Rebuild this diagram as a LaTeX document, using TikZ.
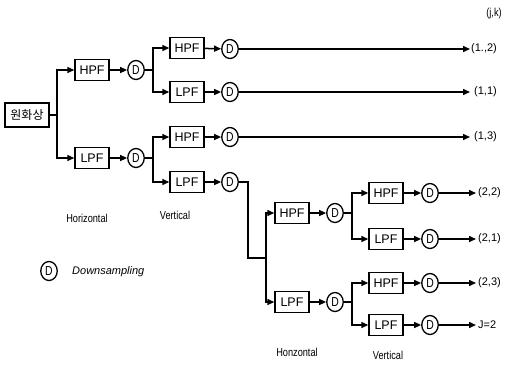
\documentclass[tikz,border=0pt]{standalone}
\usepackage{fontspec}
\setmainfont{Liberation Sans}
\newfontfamily\kor{Noto Sans CJK KR}
\newfontfamily\narrowsans[FakeStretch=0.8]{Liberation Sans}
\usetikzlibrary{arrows.meta,shapes.geometric}
\tikzset{
  filt/.style={draw,line width=1.4pt,minimum width=34pt,minimum height=21pt,inner sep=0pt,font=\fontsize{12.5}{13}\selectfont},
  dsamp/.style={draw,ellipse,line width=1.3pt,minimum width=16.5pt,minimum height=19pt,inner sep=0pt,font=\narrowsans\fontsize{13}{13}\selectfont},
  wire/.style={line width=1.5pt},
  arr/.style={line width=1.5pt,-{Triangle[length=7pt,width=6pt]}},
  lbl/.style={anchor=west,inner sep=0pt,font=\fontsize{11}{12}\selectfont},
  captext/.style={inner sep=0pt,font=\narrowsans\fontsize{11.5}{12}\selectfont}
}
\begin{document}
\begin{tikzpicture}[x=1pt,y=-1pt]
\useasboundingbox (0,0) rectangle (505,368);
% source
\node[draw,line width=1.4pt,minimum width=44pt,minimum height=24pt,inner sep=0pt,font=\kor\fontsize{12}{12}\selectfont] (src) at (27,115) {원화상};
% level 1 horizontal
\node[filt] (h1) at (92,70) {HPF};
\node[filt] (l1) at (92,158) {LPF};
\node[dsamp] (dh1) at (136,70) {D};
\node[dsamp] (dl1) at (136,158) {D};
% level 1 vertical
\node[filt] (hh1) at (187,48) {HPF};
\node[filt] (hl1) at (187,92) {LPF};
\node[filt] (lh1) at (187,137) {HPF};
\node[filt] (ll1) at (187,182) {LPF};
\node[dsamp] (dhh1) at (230,49) {D};
\node[dsamp] (dhl1) at (230,92) {D};
\node[dsamp] (dlh1) at (230,137) {D};
\node[dsamp] (dll1) at (230,182) {D};
% outputs level 1
\coordinate (o12) at (470,49);
\coordinate (o11) at (470,92);
\coordinate (o13) at (470,137);
\node[lbl] (t12) at (471,49) {(1.,2)};
\node[lbl] (t11) at (474,92) {(1,1)};
\node[lbl] (t13) at (474,137) {(1,3)};
\node[captext] (jk) at (494,14) {(j,k)};
% level 2 horizontal
\node[filt] (h2) at (292,213) {HPF};
\node[filt] (l2) at (292,302) {LPF};
\node[dsamp] (dh2) at (335,213) {D};
\node[dsamp] (dl2) at (335,302) {D};
% level 2 vertical
\node[filt] (hh2) at (386,193) {HPF};
\node[filt] (hl2) at (386,239) {LPF};
\node[filt] (lh2) at (386,283) {HPF};
\node[filt] (ll2) at (386,325) {LPF};
\node[dsamp] (dhh2) at (430,193) {D};
\node[dsamp] (dhl2) at (430,239) {D};
\node[dsamp] (dlh2) at (430,283) {D};
\node[dsamp] (dll2) at (430,325) {D};
\coordinate (o22) at (476,193);
\coordinate (o21) at (476,239);
\coordinate (o23) at (476,283);
\coordinate (oj2) at (476,325);
\node[lbl] (t22) at (478,193) {(2,2)};
\node[lbl] (t21) at (478,239) {(2,1)};
\node[lbl] (t23) at (478,283) {(2,3)};
\node[lbl] (tj2) at (478,325) {J=2};
% junctions
\coordinate (j0) at (57,115);
\coordinate (j1a) at (153,70);
\coordinate (j1b) at (153,158);
\coordinate (bend1) at (248,182);
\coordinate (bend2) at (248,258);
\coordinate (j2) at (266,258);
\coordinate (j3a) at (352,213);
\coordinate (j3b) at (352,302);
% connectors level 1
\draw[wire] (src) -- (j0);
\draw[arr] (j0) |- (h1);
\draw[arr] (j0) |- (l1);
\draw[arr] (h1) -- (dh1);
\draw[arr] (l1) -- (dl1);
\draw[wire] (dh1) -- (j1a);
\draw[wire] (dl1) -- (j1b);
\draw[arr] (j1a) |- (hh1);
\draw[arr] (j1a) |- (hl1);
\draw[arr] (j1b) |- (lh1);
\draw[arr] (j1b) |- (ll1);
\draw[arr] (hh1) -- (dhh1);
\draw[arr] (hl1) -- (dhl1);
\draw[arr] (lh1) -- (dlh1);
\draw[arr] (ll1) -- (dll1);
\draw[arr] (dhh1) -- (o12);
\draw[arr] (dhl1) -- (o11);
\draw[arr] (dlh1) -- (o13);
\draw[wire] (dll1) -- (bend1) -- (bend2) -- (j2);
% connectors level 2
\draw[arr] (j2) |- (h2);
\draw[arr] (j2) |- (l2);
\draw[arr] (h2) -- (dh2);
\draw[arr] (l2) -- (dl2);
\draw[wire] (dh2) -- (j3a);
\draw[wire] (dl2) -- (j3b);
\draw[arr] (j3a) |- (hh2);
\draw[arr] (j3a) |- (hl2);
\draw[arr] (j3b) |- (lh2);
\draw[arr] (j3b) |- (ll2);
\draw[arr] (hh2) -- (dhh2);
\draw[arr] (hl2) -- (dhl2);
\draw[arr] (lh2) -- (dlh2);
\draw[arr] (ll2) -- (dll2);
\draw[arr] (dhh2) -- (o22);
\draw[arr] (dhl2) -- (o21);
\draw[arr] (dlh2) -- (o23);
\draw[arr] (dll2) -- (oj2);
% captions
\node[captext] (c1) at (87,218) {Horizontal};
\node[captext] (c2) at (175,215) {Vertical};
\node[captext] (c3) at (297,352) {Honzontal};
\node[captext] (c4) at (388,355) {Vertical};
\node[dsamp] (leg) at (49,271) {D};
\node[anchor=west,inner sep=0pt,font=\itshape\fontsize{11}{12}\selectfont] (legt) at (72,272) {Downsampling};
\end{tikzpicture}
\end{document}
